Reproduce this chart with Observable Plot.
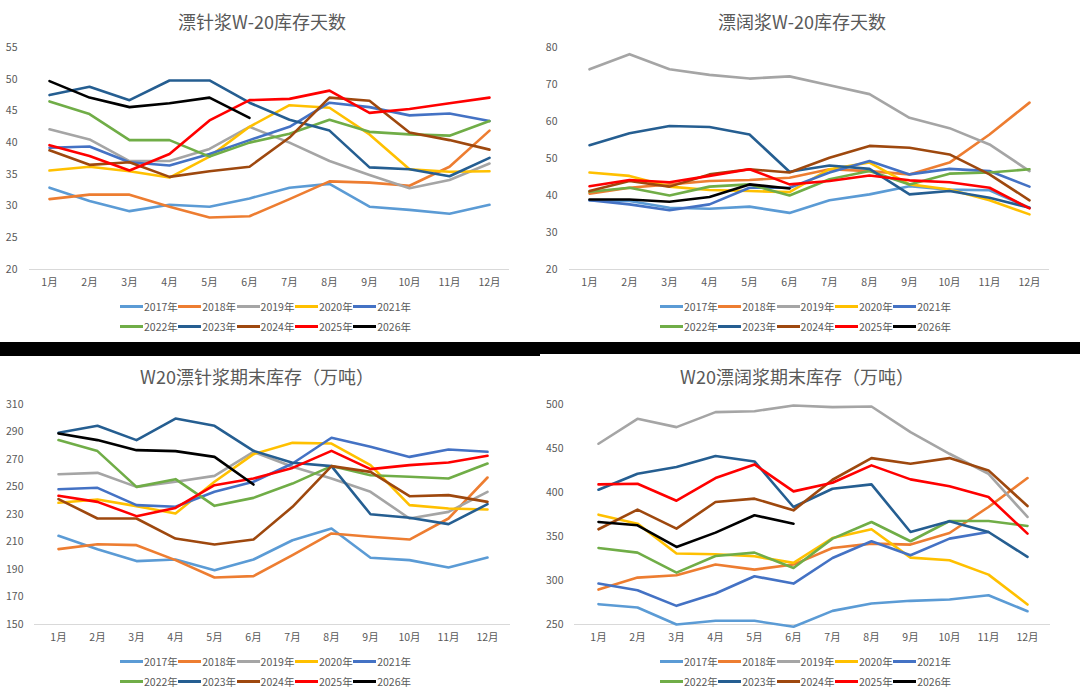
<!DOCTYPE html>
<html>
<head>
<meta charset="utf-8">
<script src="https://cdn.jsdelivr.net/npm/d3@7"></script>
<script src="https://cdn.jsdelivr.net/npm/@observablehq/plot@0.6"></script>
<style>
  html, body { margin: 0; padding: 0; background: #fff; }
  body { width: 1080px; height: 698px; position: relative; overflow: hidden;
         font-family: "Noto Sans CJK SC", "Noto Sans", sans-serif; }
  .title { position: absolute; width: 540px; text-align: center; font-size: 18px;
           color: #595959; line-height: 1; }
  .chart { position: absolute; }
  .legend { position: absolute; width: 300px; font-size: 10.5px; color: #595959; }
  .row { display: flex; height: 20px; align-items: center; }
  .item { width: 58.3px; display: flex; align-items: center; flex: none; }
  .sw { width: 23px; height: 3px; margin-right: 1px; flex: none; }
  .bar { position: absolute; background: #000; }
</style>
</head>
<body>
<script>
const months = ["1月","2月","3月","4月","5月","6月","7月","8月","9月","10月","11月","12月"];
const years = ["2017年","2018年","2019年","2020年","2021年","2022年","2023年","2024年","2025年","2026年"];
const colors = ["#5B9BD5","#ED7D31","#A5A5A5","#FFC000","#4472C4","#70AD47","#255E91","#9E480E","#FF0000","#000000"];

// 漂针浆W-20库存天数
const nbskDays = [
  [32.9,30.8,29.2,30.2,29.9,31.2,32.9,33.5,29.9,29.4,28.8,30.2],
  [31.1,31.8,31.8,29.9,28.2,28.4,31.1,33.9,33.7,33.2,36.2,41.9],
  [42.1,40.5,37.1,37.1,39.0,42.5,40.0,37.1,34.9,32.8,34.1,36.7],
  [35.6,36.2,35.5,34.5,37.8,42.5,45.9,45.5,41.3,35.8,35.4,35.5],
  [39.2,39.4,36.9,36.4,38.2,40.4,42.5,46.3,45.6,44.3,44.6,43.4],
  [46.5,44.5,40.4,40.4,37.8,40.0,41.4,43.6,41.7,41.3,41.1,43.4],
  [47.5,48.8,46.7,49.8,49.8,46.3,43.6,41.9,36.1,35.8,34.7,37.6],
  [38.8,36.5,36.9,34.6,35.5,36.2,40.8,47.1,46.6,41.6,40.4,38.9],
  [39.6,37.9,35.6,38.2,43.5,46.7,46.9,48.2,44.7,45.3,46.2,47.1],
  [49.7,47.1,45.6,46.2,47.1,43.9,null,null,null,null,null,null]
];
// 漂阔浆W-20库存天数
const bhkpDays = [
  [38.7,38.5,36.7,36.4,37.0,35.3,38.7,40.3,42.5,41.6,41.4,36.7],
  [40.5,42.1,43.0,43.9,44.2,44.8,47.1,46.6,45.7,48.9,56.5,65.1],
  [74.1,78.2,74.1,72.6,71.6,72.2,69.8,67.4,61.0,58.2,53.8,46.6],
  [46.2,45.3,42.4,41.5,41.2,40.9,47.1,48.9,43.0,41.6,38.7,34.9],
  [38.7,37.6,36.0,37.6,42.1,42.1,46.2,49.3,45.7,47.2,46.6,42.4],
  [41.0,42.1,40.0,42.4,43.0,40.0,44.4,46.6,43.0,45.9,46.2,47.1],
  [53.6,56.8,58.8,58.5,56.5,46.4,48.1,47.2,40.3,41.2,39.4,36.7],
  [41.2,43.9,42.4,45.7,47.1,46.2,50.2,53.4,52.9,51.1,45.7,38.7],
  [42.5,44.2,43.6,45.3,47.1,43.0,43.9,45.4,44.1,43.6,42.1,36.5],
  [38.9,38.9,38.3,39.6,43.0,41.9,null,null,null,null,null,null]
];
// W20漂针浆期末库存（万吨）
const nbskStock = [
  [214.5,204.8,196.1,197.3,189.5,197.3,211.3,219.8,198.5,196.8,191.5,198.7],
  [204.8,208.4,207.7,196.8,184.2,185.2,200.4,216.2,213.8,211.8,227.1,256.9],
  [259.3,260.3,250.1,253.8,258.1,275.6,264.7,256.2,246.5,227.1,231.9,246.5],
  [238.5,240.9,236.1,230.7,253.8,273.9,282.1,281.6,265.9,236.8,234.4,233.6],
  [248.4,249.4,236.8,235.6,246.5,253.8,267.1,285.8,279.2,271.9,277.3,275.6],
  [284.1,276.1,250.1,255.7,236.3,242.1,252.5,265.2,258.6,257.4,256.2,267.1],
  [289.4,294.5,284.1,299.8,294.5,276.3,267.6,265.2,230.2,227.6,223.0,237.5],
  [241.2,227.1,227.1,212.5,208.2,211.8,235.6,265.2,261.0,243.3,244.1,239.2],
  [243.6,239.2,228.8,234.8,251.3,256.2,263.9,276.3,263.0,265.9,267.8,272.7],
  [288.9,284.1,276.8,276.1,271.9,251.8,null,null,null,null,null,null]
];
// W20漂阔浆期末库存（万吨）
const bhkpStock = [
  [273.1,269.3,250.0,254.2,254.2,247.4,265.5,273.8,276.9,278.4,283.3,265.1],
  [289.7,303.3,306.0,318.1,312.4,318.1,337.0,341.9,340.8,354.0,383.5,416.4],
  [455.4,483.7,474.3,491.3,492.4,498.9,497.0,497.7,468.6,444.0,421.3,372.2],
  [374.8,364.6,330.6,329.8,327.5,320.0,348.3,358.2,326.0,323.0,306.7,272.7],
  [296.5,288.9,271.2,285.2,304.8,296.5,325.6,344.6,328.7,347.6,355.1,null],
  [337.0,331.7,309.0,327.9,331.7,314.3,347.6,366.5,344.6,367.6,367.6,362.0],
  [403.2,421.3,428.9,441.4,435.3,383.5,404.3,409.2,355.1,367.2,355.1,326.8],
  [358.2,380.5,358.9,389.2,393.0,379.7,414.5,439.1,432.7,439.1,425.1,384.6],
  [409.2,410.0,390.7,416.4,431.9,401.3,411.1,430.8,414.9,407.0,394.9,353.3],
  [366.5,362.7,338.1,354.4,374.1,364.6,null,null,null,null,null,null]
];

const nbskDaysTicks = [20,25,30,35,40,45,50,55];
const bhkpDaysTicks = [20,30,40,50,60,70,80];
const nbskStockTicks = [150,170,190,210,230,250,270,290,310];
const bhkpStockTicks = [250,300,350,400,450,500];

function toRows(series) {
  return series.flatMap((vals, i) => vals.map((v, j) => ({year: years[i], month: months[j], value: v})));
}

function addPanel({left, top, title, titleShift, series, ticks, mLeft, mRight, tickPad}) {
  const t = document.createElement("div");
  t.className = "title";
  t.textContent = title;
  t.style.left = (left + titleShift) + "px";
  t.style.top = (top + 12) + "px";
  document.body.appendChild(t);

  const svgTop = top + 30;
  const chart = Plot.plot({
    width: 540,
    height: 270,
    marginTop: 17 + (top > 0 ? 2 : 0),
    marginBottom: 31,
    marginLeft: mLeft,
    marginRight: mRight,
    style: {fontFamily: '"Noto Sans CJK SC", "Noto Sans", sans-serif', fontSize: "10.5px", color: "#595959", background: "transparent"},
    x: {type: "point", domain: months, padding: 0.5},
    y: {domain: [ticks[0], ticks[ticks.length - 1]]},
    color: {domain: years, range: colors},
    marks: [
      Plot.axisX({tickSize: 0, tickPadding: 9, label: null, fill: "#595959"}),
      Plot.axisY({ticks, tickSize: 0, tickPadding: tickPad, label: null, fill: "#595959"}),
      Plot.ruleY([ticks[0]], {stroke: "#D9D9D9", strokeWidth: 1}),
      Plot.line(toRows(series), {x: "month", y: "value", z: "year", stroke: "year",
        strokeWidth: 2.6, strokeLinejoin: "round", strokeLinecap: "round", defined: d => d.value != null})
    ]
  });
  chart.classList.add("chart");
  chart.style.left = left + "px";
  chart.style.top = (top > 0 ? top + 30 : svgTop) + "px";
  document.body.appendChild(chart);

  const lg = document.createElement("div");
  lg.className = "legend";
  lg.style.left = (left + 120) + "px";
  lg.style.top = (top + 296) + "px";
  for (let r = 0; r < 2; r++) {
    const row = document.createElement("div");
    row.className = "row";
    for (let k = r * 5; k < r * 5 + 5; k++) {
      const it = document.createElement("div");
      it.className = "item";
      const sw = document.createElement("span");
      sw.className = "sw";
      sw.style.background = colors[k];
      const tx = document.createElement("span");
      tx.textContent = years[k];
      it.appendChild(sw); it.appendChild(tx);
      row.appendChild(it);
    }
    lg.appendChild(row);
  }
  document.body.appendChild(lg);
}

addPanel({left: 0, top: 0, title: "漂针浆W-20库存天数", titleShift: -8, series: nbskDays, ticks: nbskDaysTicks, mLeft: 29, mRight: 31, tickPad: 12});
addPanel({left: 540, top: 0, title: "漂阔浆W-20库存天数", titleShift: -8, series: bhkpDays, ticks: bhkpDaysTicks, mLeft: 29, mRight: 31, tickPad: 12});
addPanel({left: 0, top: 355, title: "W20漂针浆期末库存（万吨）", titleShift: -13, series: nbskStock, ticks: nbskStockTicks, mLeft: 34, mRight: 30, tickPad: 11});
addPanel({left: 540, top: 355, title: "W20漂阔浆期末库存（万吨）", titleShift: -13, series: bhkpStock, ticks: bhkpStockTicks, mLeft: 34, mRight: 30, tickPad: 11});

const b1 = document.createElement("div"); b1.className = "bar";
b1.style.cssText += "left:0;top:342px;width:540px;height:14px;";
document.body.appendChild(b1);
const b2 = document.createElement("div"); b2.className = "bar";
b2.style.cssText += "left:540px;top:342px;width:540px;height:12px;";
document.body.appendChild(b2);
</script>
</body>
</html>
